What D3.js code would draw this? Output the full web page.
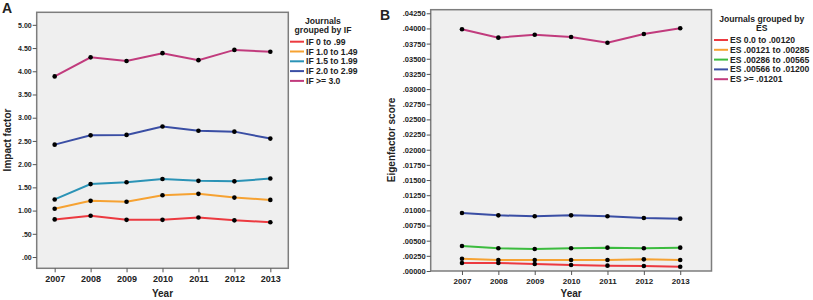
<!DOCTYPE html>
<html>
<head>
<meta charset="utf-8">
<script src="https://cdn.jsdelivr.net/npm/d3@7"></script>
<style>
  body { margin: 0; background: #fff; }
  text { font-family: "Liberation Sans", Arial, sans-serif; font-weight: bold; fill: #222; }
</style>
</head>
<body>
<svg id="chart" width="813" height="300"></svg>
<script>
// data
const years = ["2007", "2008", "2009", "2010", "2011", "2012", "2013"];

const ifGroups = ["IF 0 to .99", "IF 1.0 to 1.49", "IF 1.5 to 1.99", "IF 2.0 to 2.99", "IF >= 3.0"];
const ifColors = ["#ec3a40", "#f6a232", "#2b93b6", "#3a4ea4", "#c13b7d"];
const if0 = [0.81, 0.89, 0.80, 0.80, 0.85, 0.79, 0.75];
const if1 = [1.04, 1.21, 1.19, 1.33, 1.36, 1.28, 1.23];
const if15 = [1.24, 1.57, 1.61, 1.68, 1.64, 1.63, 1.69];
const if2 = [2.42, 2.62, 2.63, 2.81, 2.72, 2.70, 2.55];
const if3 = [3.89, 4.30, 4.22, 4.39, 4.24, 4.46, 4.42];
const ifTicks = [0, 0.5, 1, 1.5, 2, 2.5, 3, 3.5, 4, 4.5, 5];

const esGroups = ["ES 0.0 to .00120", "ES .00121 to .00285", "ES .00286 to .00565", "ES .00566 to .01200", "ES >= .01201"];
const esColors = ["#ec3a40", "#f6a232", "#3cbc3f", "#3a4ea4", "#c13b7d"];
const es0 = [0.00132, 0.00132, 0.00115, 0.00099, 0.00088, 0.00082, 0.00071];
const es1 = [0.00203, 0.00181, 0.00181, 0.00181, 0.00181, 0.00192, 0.00181];
const es2 = [0.00412, 0.00374, 0.00363, 0.00374, 0.00385, 0.00374, 0.00385];
const es3 = [0.00956, 0.00918, 0.00902, 0.00918, 0.00902, 0.00874, 0.00863];
const es4 = [0.03986, 0.03848, 0.03897, 0.03859, 0.03765, 0.03908, 0.04002];
const esTicks = [0, 0.0025, 0.005, 0.0075, 0.01, 0.0125, 0.015, 0.0175, 0.02, 0.0225,
                 0.025, 0.0275, 0.03, 0.0325, 0.035, 0.0375, 0.04, 0.0425];

const svg = d3.select("#chart");

function noLead(s) { return s.replace(/^0\./, "."); }

function drawPanel(opt) {
    const x = d3.scalePoint().domain(years).range([opt.left, opt.right]).padding(opt.pad);
    const y = d3.scaleLinear().domain(opt.ydom).range([opt.bottom, opt.top]);
    const g = svg.append("g");

    g.append("rect")
        .attr("x", opt.left).attr("y", opt.top)
        .attr("width", opt.right - opt.left).attr("height", opt.bottom - opt.top)
        .attr("fill", "#efefef")
        .attr("stroke", "#7d7d7d").attr("stroke-width", 1.5);

    const yAxis = g.append("g")
        .attr("transform", "translate(" + opt.left + ",0)")
        .call(d3.axisLeft(y).tickValues(opt.ticks).tickSize(4).tickSizeOuter(0)
            .tickFormat(d => noLead(d3.format(opt.fmt)(d))));
    yAxis.select(".domain").remove();
    yAxis.selectAll("line").attr("stroke", "#555");
    yAxis.selectAll("text").attr("font-size", opt.ytickSize).attr("fill", "#222")
        .attr("font-family", null).attr("x", -5);

    const xAxis = g.append("g")
        .attr("transform", "translate(0," + opt.bottom + ")")
        .call(d3.axisBottom(x).tickSize(4).tickSizeOuter(0));
    xAxis.select(".domain").remove();
    xAxis.selectAll("line").attr("stroke", "#555");
    xAxis.selectAll("text").attr("font-size", opt.xtickSize).attr("fill", "#222")
        .attr("font-family", null).attr("y", 7);

    const line = d3.line().x((d, i) => x(years[i])).y(d => y(d));
    opt.series.forEach((s, k) => {
        g.append("path").datum(s)
            .attr("fill", "none").attr("stroke", opt.colors[k]).attr("stroke-width", 2)
            .attr("d", line);
    });
    opt.series.forEach(s => {
        g.selectAll(null).data(s).enter().append("circle")
            .attr("cx", (d, i) => x(years[i])).attr("cy", d => y(d))
            .attr("r", 2.3).attr("fill", "#000");
    });

    // axis titles
    g.append("text")
        .attr("x", (opt.left + opt.right) / 2).attr("y", 297)
        .attr("text-anchor", "middle").attr("font-size", 10).text("Year");
    g.append("text")
        .attr("transform", "translate(" + opt.ylabX + ",140) rotate(-90)")
        .attr("text-anchor", "middle").attr("font-size", 10).text(opt.ylabel);

    // panel letter
    g.append("text").attr("x", opt.letterX).attr("y", opt.letterY)
        .attr("font-size", 14).text(opt.letter);

    // legend
    const lg = g.append("g");
    opt.legTitle.forEach((t, i) => {
        lg.append("text").attr("x", opt.legTitleX).attr("y", opt.legTitleY + i * 8.5)
            .attr("text-anchor", "middle").attr("font-size", 8.6).text(t);
    });
    opt.groups.forEach((name, i) => {
        const cy = opt.legY + i * 9.8;
        lg.append("line").attr("x1", opt.legX).attr("x2", opt.legX + 14)
            .attr("y1", cy).attr("y2", cy)
            .attr("stroke", opt.colors[i]).attr("stroke-width", 2);
        lg.append("text").attr("x", opt.legX + 16).attr("y", cy + 3)
            .attr("font-size", 8.6).text(name);
    });
}

drawPanel({
    left: 36.7, right: 288.3, top: 12.3, bottom: 268.3, pad: 0.5,
    ydom: [-0.243, 5.27], ticks: ifTicks, fmt: ".2f",
    ytickSize: 7, xtickSize: 9,
    series: [if0, if1, if15, if2, if3], colors: ifColors, groups: ifGroups,
    ylabel: "Impact factor", ylabX: 10.5,
    letter: "A", letterX: 2, letterY: 13,
    legTitle: ["Journals", "grouped by IF"], legTitleX: 323, legTitleY: 24,
    legX: 290, legY: 41.7
});

drawPanel({
    left: 430.7, right: 711.5, top: 9.7, bottom: 271, pad: 0.86,
    ydom: [0, 0.04309], ticks: esTicks, fmt: ".5f",
    ytickSize: 7.5, xtickSize: 8,
    series: [es0, es1, es2, es3, es4], colors: esColors, groups: esGroups,
    ylabel: "Eigenfactor score", ylabX: 395,
    letter: "B", letterX: 380, letterY: 20,
    legTitle: ["Journals grouped by", "ES"], legTitleX: 761.7, legTitleY: 22,
    legX: 714, legY: 40
});
</script>
</body>
</html>
